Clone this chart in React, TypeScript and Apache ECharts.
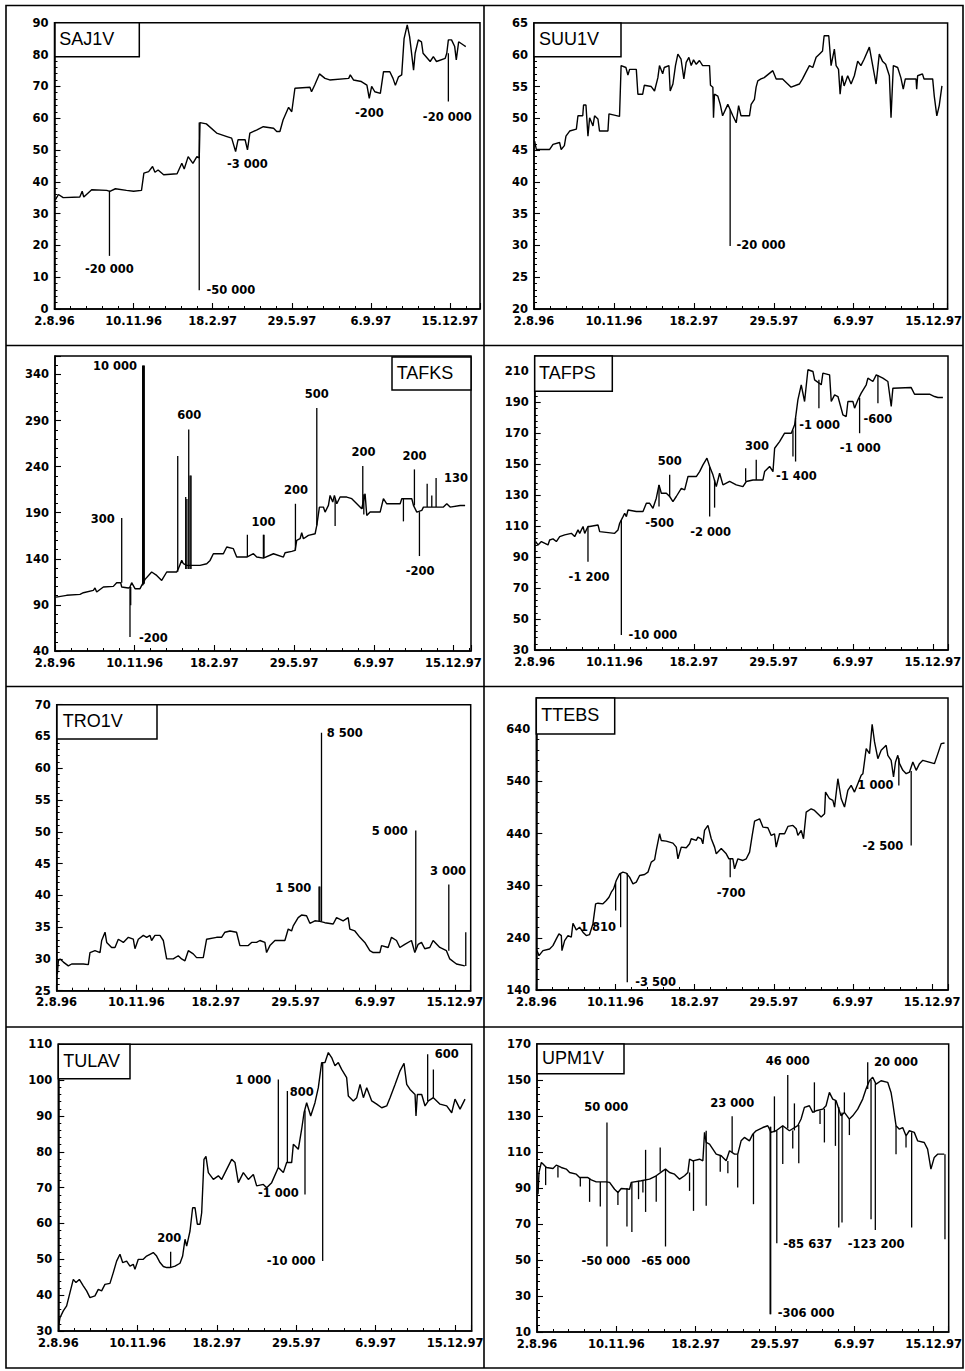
import React, { useEffect, useRef } from "react";
import * as echarts from "echarts";

// x axis: days counted from 2.8.96, one label every 100 days
const xTickLabels = ["2.8.96", "10.11.96", "18.2.97", "29.5.97", "6.9.97", "15.12.97"];

const panelTitles = ["SAJ1V", "SUU1V", "TAFKS", "TAFPS", "TRO1V", "TTEBS", "TULAV", "UPM1V"];

// y axes: [min, max, step]
const sajY = [0, 90, 10];
const suuY = [20, 65, 5];
const tafksY = [40, 360, 50];
const tafpsY = [30, 220, 20];
const troY = [25, 70, 5];
const ttebsY = [140, 700, 100];
const tulavY = [30, 110, 10];
const upmY = [10, 170, 20];

// last day shown on each x axis
const xEnds = [538, 517.5, 522, 519, 520, 520, 521, 519];

// ---------- SAJ1V ----------
const sajPrice = [
  [1, 34.3], [5, 36], [11, 35], [32, 35.2], [35, 37], [37, 35.2], [47, 37.5], [66, 37.3], [70, 37], [77, 37.8],
  [91, 37.3], [100, 37], [110, 37.3], [113, 42.7], [119, 43.2], [124, 44.8], [127, 43], [131, 43.7], [138, 42.2],
  [155, 42.5], [161, 45.8], [164, 44], [169, 47.9], [175, 45.8], [180, 47.9], [183, 47.5], [184, 58.6], [192, 58.2],
  [205, 55.3], [218, 54.2], [224, 53.7], [229, 49.5], [232, 53.2], [241, 53.2], [244, 50], [247, 55.3], [256, 56.3],
  [264, 57.3], [277, 56.8], [281, 55.8], [285, 55.8], [289, 59.4], [296, 63.4], [300, 62], [304, 69.4], [323, 69.7],
  [325, 68.3], [329, 70.4], [335, 73.9], [342, 72.5], [348, 72], [372, 72.5], [374, 73.6], [378, 72], [388, 71.5],
  [395, 70.4], [398, 66.2], [401, 70], [405, 68.3], [412, 67.8], [416, 74.6], [424, 74.6], [428, 72.5], [431, 70.3],
  [435, 73], [439, 73.6], [442, 85], [446, 89.3], [449, 85.6], [454, 75.1], [456, 80.4], [460, 84.6], [464, 84],
  [466, 80.4], [475, 77.8], [479, 79.3], [483, 77.8], [494, 78.8], [496, 80.4], [498, 84.6], [502, 84.6], [506, 82.5],
  [508, 78.3], [511, 84], [517, 83], [520, 82.5],
];
const sajSpikes = [[69.5, 37.2, 16.7], [183, 58.6, 5.9], [498, 80.4, 65.2]];
const sajNotes = [[69.5, 12.6, "-20 000"], [223, 5.9, "-50 000"], [244, 45.6, "-3 000"], [398, 61.5, "-200"], [496.6, 60.5, "-20 000"]];

// ---------- SUU1V ----------
const suuPrice = [
  [0.8, 46.4], [2.9, 45.1], [19.6, 45.1], [23.8, 45.9], [32, 46.2], [34, 45.1], [38, 45.7], [40, 47.2], [44.6, 48],
  [53, 48.3], [55, 50.4], [61, 50.4], [62, 52.1], [65, 52.1], [67.5, 47.2], [69.6, 50.1], [73.8, 48.8], [75.8, 50.4],
  [80, 49.9], [82, 48], [92.5, 48], [93.8, 50.7], [107, 50.3], [109, 58.3], [115, 58], [117.5, 56.8], [119.6, 57.7],
  [128, 57.7], [130, 53.8], [136, 53.8], [138, 55.2], [146.7, 55], [150.8, 54.3], [155, 56.4], [157, 58.3], [161, 57],
  [163, 58], [168.8, 58.3], [170.4, 54.3], [173.8, 55.4], [177, 58.3], [180, 60.1], [184, 59.3], [187.5, 56.2],
  [190.4, 58.8], [193.8, 59.6], [196.7, 58.3], [199.6, 59.2], [203, 58.5], [207, 59.1], [211, 58.3], [219.6, 58.3],
  [220.8, 55.2], [223.8, 54.9], [224.6, 50.1], [225.8, 53.8], [230, 53.5], [233, 52.2], [236, 50.4], [242.5, 52.2],
  [245.4, 51.4], [248.8, 50.4], [253, 49.3], [256, 52], [259, 50.4], [269.6, 50.4], [271.7, 52.2], [275.8, 53],
  [277.9, 54.9], [280, 55.9], [284, 56.2], [288, 56.4], [298.8, 57.5], [303, 56.2], [311, 56.2], [321.7, 54.9],
  [332, 55.4], [336, 56.2], [340, 57.2], [344.6, 58.3], [348.8, 58], [353, 59.6], [357, 60.1], [361, 60.6], [363, 63],
  [368.8, 63], [371.7, 58.3], [375.8, 60.9], [378, 58.3], [381, 57.7], [383, 53.8], [385.4, 56.7], [388, 55.1],
  [392.5, 56.7], [396.7, 55.4], [400.8, 56.7], [405, 59], [409, 58.3], [413, 59.3], [419.6, 61.2], [423.8, 58.3],
  [428, 55.4], [432, 60.1], [436, 59], [440, 58.5], [444.6, 56.7], [446.7, 50.1], [449.6, 58.3], [455, 58],
  [459, 56.4], [462, 54.6], [464.6, 56.2], [478, 56.2], [478.8, 54.6], [480, 56.7], [486, 57], [488, 56.2],
  [498.8, 56.2], [500.8, 53.5], [504, 50.4], [507, 52], [510.4, 55.1],
];
const suuSpikes = [[245.4, 51.4, 29.9]];
const suuNotes = [[284, 30, "-20 000"]];

// ---------- TAFKS ----------
const tafksPrice = [
  [1.3, 98.5], [14.6, 100.4], [31.4, 101.4], [35.6, 103.2], [48.1, 105.8], [50.2, 108.3], [52.3, 104], [60.7, 109.4],
  [73.2, 110.1], [77.4, 114.1], [82.4, 114.1], [83.7, 109.4], [92, 108.3], [94.1, 109.4], [96.2, 114.1], [100.4, 107.6],
  [106.7, 107.6], [108.8, 111.2], [113, 117.7], [121.3, 125.7], [127.6, 122], [133.9, 116.6], [140.2, 125.7],
  [152.7, 125.7], [154.8, 129.3], [159, 138.3], [161.1, 134.7], [165.3, 132.9], [171.5, 132.9], [182, 132.9],
  [190.4, 134.7], [194.6, 138.3], [198.7, 145.5], [211.3, 145.5], [215.5, 152.8], [223.8, 151], [228, 141.9],
  [240.6, 141.9], [249, 145.5], [253.1, 141.9], [261.5, 140.8], [274.1, 145.5], [286.6, 141.9], [288.7, 146.6],
  [297.1, 148.1], [301.3, 149.1], [303.3, 160], [307.5, 161.8], [309.6, 168.3], [311.7, 161.8], [318, 165.4],
  [326.4, 167.2], [328.5, 176.2], [331.8, 196.1], [336.8, 196.1], [338.9, 190.7], [343.1, 197.9], [345.2, 208.8],
  [348.5, 201.5], [350.6, 208.8], [353.6, 199.7], [357.7, 207], [366.1, 207], [372.4, 205.2], [378.7, 199.7],
  [384.9, 194.3], [389.1, 210.6], [391.2, 187.1], [395.4, 190.7], [408, 190.7], [412.1, 205.2], [416.3, 199.7],
  [433.1, 199.7], [435.1, 205.2], [447.7, 205.2], [449.8, 197.9], [454, 190.7], [460.3, 192.5], [462.3, 196.1],
  [487.4, 196.1], [491.6, 199.7], [495.8, 196.1], [508.4, 197.9], [514.6, 197.9],
];
const tafksSpikes = [
  [83.7, 114.1, 184.2], [94.1, 109.4, 55.2], [95, 109.4, 89.5], [110, 111, 349.7], [111, 112, 349.7], [112, 113, 349.7],
  [154, 126, 251.4], [164, 129, 207], [165.5, 129, 205], [167.8, 129, 280.3], [169.5, 129, 230.5], [170.7, 129, 230.5],
  [241.4, 141.9, 166.1], [261.5, 140.8, 166.1], [262.3, 140.8, 166.1], [301.7, 149.1, 199.7], [328.5, 176.2, 303.5],
  [351.5, 205, 175.5], [386.2, 194.3, 240.6], [387.5, 188, 210], [437.2, 205.2, 180.6], [451, 197.9, 237],
  [457.3, 190.7, 143], [467, 196.1, 221.4], [472.8, 196.1, 208.8], [478.2, 196.1, 227.6],
];
const tafksNotes = [
  [75.3, 349, "10 000"], [123.4, 54.1, "-200"], [59.8, 183.5, "300"], [168.6, 295.5, "600"], [261.5, 179.9, "100"],
  [302.5, 214.9, "200"], [328.5, 318.3, "500"], [387, 255.8, "200"], [451, 251.1, "200"], [503.3, 227.6, "130"],
  [458.2, 126.4, "-200"],
];

// ---------- TAFPS ----------
const tafpsPrice = [
  [1.3, 100.1], [4.2, 97.9], [8.4, 100.1], [16.7, 97.9], [18.8, 101.1], [23, 101.8], [27.2, 100.1], [31.4, 103.3],
  [37.7, 104.4], [46, 105.4], [50.2, 103.3], [54.4, 107.6], [56.5, 105.4], [60.7, 109.8], [62.8, 105.4], [66.9, 109.8],
  [69, 109.8], [79.5, 110.8], [81.6, 106.5], [100.4, 105.4], [104.6, 107.6], [106.7, 111.9], [110.9, 116.2],
  [113, 118.4], [115.1, 116.2], [117.2, 120.5], [127.6, 119.5], [136, 119.5], [140.2, 124.8], [144.4, 124.8],
  [148.5, 121.6], [152.7, 128.1], [156.1, 136.7], [159, 131.3], [165.3, 131.3], [169.5, 129.2], [173.6, 125.9],
  [177.8, 129.2], [184.1, 134.5], [188.3, 133.5], [192.5, 142.1], [202.9, 142.1], [207.1, 145.3], [211.3, 149.6],
  [216.3, 154], [219.7, 148.6], [223.8, 143.2], [228, 135.6], [232.2, 144.2], [236.4, 136.7], [244.8, 138.9],
  [253.1, 136.7], [261.5, 135.6], [265.7, 138.9], [274.1, 139.9], [286.6, 139.9], [288.7, 145.3], [295, 148.6],
  [299.2, 145.3], [301.3, 160.4], [307.5, 164.7], [313.8, 170.1], [322.2, 170.1], [326.4, 175.5], [330.5, 191.7],
  [334.7, 201.4], [338.9, 190.6], [343.1, 211.1], [349.4, 210], [351.5, 204.6], [359.8, 201.4], [361.9, 208.9],
  [370.3, 207.8], [372.4, 190.6], [376.6, 194.9], [380.8, 193.8], [387, 182], [391.2, 180.9], [393.3, 190.6],
  [399.6, 190.6], [401.7, 186.3], [405.9, 191.7], [410, 196], [416.3, 201.4], [418.4, 205.7], [424.7, 203.5],
  [428.9, 207.8], [437.2, 205.7], [443.5, 203.5], [447.7, 187.4], [449.8, 199.2], [472.8, 199.6], [477, 195.3],
  [495.8, 195.3], [502.1, 193.8], [506.3, 193.2], [512.6, 193.2],
];
const tafpsSpikes = [
  [66.9, 109.8, 87.1], [108.8, 114, 39.7], [156.1, 136.7, 122.7], [169.5, 129.2, 143.2], [219.7, 148.6, 116.2],
  [225.9, 140, 122], [264.9, 138.9, 147.5], [278.2, 139.9, 152.9], [324.3, 172, 155], [327.6, 180, 151.8],
  [356.9, 204.6, 186.3], [408, 193, 170.1], [431, 207.8, 189.5],
];
const tafpsNotes = [
  [68.2, 77.4, "-1 200"], [148.5, 39.7, "-10 000"], [169.5, 152.2, "500"], [156.9, 112.3, "-500"],
  [220.9, 106.5, "-2 000"], [279.1, 161.9, "300"], [328.5, 142.5, "-1 400"], [357.7, 175.5, "-1 000"],
  [431, 179.4, "-600"], [408.8, 160.4, "-1 000"],
];

// ---------- TRO1V ----------
const troPrice = [
  [0.8, 27.6], [2.1, 29.7], [4.2, 30], [8.4, 29.5], [14.6, 28.9], [18.8, 29.2], [33.5, 29.2], [39.7, 29.1], [41.8, 31],
  [48.1, 31.3], [54.4, 31], [56.5, 32.9], [60.7, 34.2], [62.8, 32.6], [69, 31.8], [73.2, 31.8], [77.4, 33.1],
  [83.7, 32.6], [90, 33.4], [96.2, 33.1], [98.3, 31.6], [102.5, 33.1], [108.8, 33.7], [113, 33.4], [117.2, 33.7],
  [119.2, 32.9], [123.4, 33.7], [129.7, 33.7], [133.9, 32.9], [138.1, 30], [146.4, 30], [152.7, 30.5], [156.9, 30],
  [161.1, 29.7], [165.3, 31.3], [171.5, 30.8], [175.7, 30.2], [184.1, 30.2], [188.3, 33.1], [200.8, 33.4],
  [207.1, 33.4], [211.3, 34.2], [217.6, 34.4], [225.9, 34.2], [230.1, 32.1], [240.6, 32.1], [244.8, 32.6],
  [251, 32.6], [255.2, 32.9], [261.5, 32.6], [263.6, 31], [267.8, 32.1], [274.1, 32.9], [286.6, 32.9], [290.8, 34.7],
  [295, 34.4], [297.1, 35.2], [303.3, 36.5], [307.5, 36.9], [313.8, 36.8], [318, 35.6], [324.3, 36], [330.5, 35.9],
  [336.8, 35.7], [347.3, 35.5], [351.5, 36.5], [359.8, 36], [366.1, 36.5], [368.2, 34.7], [374.5, 34.4],
  [380.8, 33.4], [387, 32.6], [393.3, 31.3], [397.5, 31], [405.9, 31], [408, 32.1], [416.3, 31.8], [420.5, 33.4],
  [426.8, 32.9], [431, 31.8], [437.2, 32.3], [445.6, 32.9], [449.8, 31], [454, 32.3], [458.2, 32.6], [462.3, 31.6],
  [468.6, 31.8], [472.8, 32.9], [481.2, 31.8], [489.5, 31.3], [493.7, 30], [502.1, 29.2], [512.6, 28.9],
];
const troSpikes = [
  [329.5, 35.9, 41.4], [330.5, 35.9, 41.4], [332.6, 35.9, 65.6], [451, 31.5, 50.2], [492.5, 31.3, 41.7],
  [513.8, 28.9, 34.2],
];
const troNotes = [[361.9, 65.5, "8 500"], [297.1, 41.2, "1 500"], [418.4, 50.1, "5 000"], [491.6, 43.9, "3 000"]];

// ---------- TTEBS ----------
const ttebsPrice = [
  [0.8, 215.5], [3.4, 205.9], [8.4, 215.5], [16.8, 218.7], [21, 225.1], [25.3, 238], [28.6, 247.6], [31.6, 244.4],
  [32.4, 215.5], [35.8, 234.8], [40, 244.4], [44.2, 241.2], [46.3, 268], [50.5, 255.2], [54.7, 260.4], [58.9, 250.8],
  [63.1, 244.4], [67.3, 246.3], [71.5, 266.8], [74.9, 305.2], [77.9, 306.5], [84.2, 305.2], [88.4, 311.6],
  [91.8, 318], [94.7, 327.6], [97.6, 334], [101, 350], [105.2, 362.8], [109.4, 366], [113.6, 364.1], [117.8, 356.4],
  [122.1, 343.6], [126.3, 346.8], [130.5, 359.6], [136.8, 361.5], [141, 366], [145.2, 385.2], [149.4, 389.7],
  [151.5, 407.6], [155.7, 439.6], [157.8, 426.8], [164.1, 425.5], [172.6, 421.7], [176.8, 414], [178.9, 391.6],
  [183.1, 414], [189.4, 412.7], [193.6, 420.4], [195.7, 430], [202, 426.8], [204.1, 433.2], [208.3, 430],
  [210.4, 420.4], [212.5, 446], [216.8, 455.6], [221, 430], [225.2, 414], [227.3, 401.2], [233.6, 411.5],
  [239.9, 401.2], [243.3, 391.6], [248.3, 391.6], [250.4, 372.4], [254.6, 391.6], [260.9, 388.4], [265.2, 391.6],
  [269.4, 404.4], [272.7, 436.4], [275.7, 464], [282, 468.4], [286.2, 452.4], [292.5, 451.1], [296.7, 436.4],
  [300.9, 439.6], [303, 414], [307.2, 439.6], [313.6, 439.6], [317.8, 453.7], [324.1, 455.6], [328.3, 449.2],
  [330.4, 436.4], [334.6, 446], [337.5, 430], [340.9, 481.2], [347.2, 487.6], [351.4, 484.4], [355.6, 478],
  [359.8, 471.6], [364.1, 478], [365.3, 519.6], [370.4, 506.8], [374.6, 503.6], [376.7, 490.8], [380.9, 545.2],
  [385.1, 506.8], [389.3, 490.8], [393.5, 522.8], [397.7, 532.4], [401.9, 519.6], [406.1, 535.6], [410.4, 551.7],
  [412.5, 554.8], [416.7, 602.9], [420.9, 593.3], [424.2, 649.6], [427.2, 615.7], [431.4, 583.7], [435.6, 599.7],
  [441.9, 609.3], [444, 590.1], [448.2, 580.5], [451.2, 548.5], [453.7, 577.3], [456.6, 590.1], [458.8, 574.1],
  [463, 561.3], [467.2, 554.8], [471.4, 558], [475.6, 577.3], [479.8, 561.3], [484, 574.1], [488.2, 580.5],
  [502.9, 574.1], [507.2, 593.3], [511.4, 612.5], [515.6, 613.8],
];
const ttebsSpikes = [
  [100.2, 345, 292.4], [106.5, 364, 260.4], [114.9, 364, 154.7], [244.9, 391.6, 356.4], [457.9, 585, 532.4],
  [473.5, 560, 417.2],
];
const ttebsNotes = [
  [77.9, 260.4, "1 810"], [150.7, 154.7, "-3 500"], [246.2, 326.3, "-700"], [428.5, 532.4, "1 000"],
  [437.7, 415.3, "-2 500"],
];

// ---------- TULAV ----------
const tulavPrice = [
  [0.8, 31.9], [2.1, 33.7], [6.3, 35.6], [10.5, 37], [14.7, 40.7], [18.9, 44.4], [22.3, 43.5], [26.5, 44.4],
  [31.5, 42.6], [35.7, 41.2], [39.9, 39.3], [46.2, 39.8], [50.4, 41.6], [54.6, 41.2], [58.8, 43], [65.1, 43.3],
  [69.3, 46.3], [73.5, 49.5], [77.7, 51.4], [81.1, 49.1], [86.1, 49.5], [90.3, 48.1], [94.5, 48.6], [96.6, 47.2],
  [100.8, 50], [107.1, 50], [111.3, 50.9], [119.7, 51.9], [123.9, 50.9], [128.2, 49.1], [132.4, 48], [136.6, 47.7],
  [140.8, 47.7], [147.1, 48.1], [153.4, 48.9], [156.7, 50.9], [159.7, 55.6], [161.8, 53.7], [166, 57.9],
  [169.3, 64.4], [172.3, 64.4], [175.2, 59.8], [178.6, 59.8], [180.7, 63], [183.6, 77.9], [186.1, 78.7],
  [189.1, 74.2], [195.4, 72.3], [201.7, 73.3], [205.9, 72.3], [212.2, 75.1], [218.5, 77.9], [222.7, 77],
  [226.9, 71.4], [233.2, 74.2], [239.5, 72.3], [245.8, 73.7], [250, 70.5], [258.4, 70.9], [262.6, 70],
  [268.9, 71.4], [277.3, 75.6], [283.6, 74.2], [287.8, 77], [294.1, 77], [296.2, 82.1], [302.5, 80.7],
  [306.7, 86.3], [309.7, 90.9], [313, 93.7], [318.1, 90], [323.5, 93.7], [327.7, 97.9], [331.9, 104.9],
  [336.1, 104.9], [340.3, 107.7], [344.5, 106.3], [348.7, 104], [352.9, 104.9], [357.1, 103], [363.4, 100.7],
  [365.5, 95.6], [371.8, 94.2], [376.1, 95.1], [380.3, 98.8], [384.5, 95.1], [388.7, 97.9], [395, 94.2],
  [401.3, 93.3], [407.6, 92.3], [413.9, 92.8], [418.1, 95.1], [424.4, 98.8], [430.7, 102.6], [435.7, 104.7],
  [439.1, 98.8], [443.3, 97.4], [449.6, 96], [450.8, 90], [452.5, 96], [458, 96], [462.2, 92.8], [466.4, 94.2],
  [472.7, 95.1], [481.1, 93.3], [489.5, 92.8], [495.8, 90.9], [500, 94.7], [506.3, 91.9], [512.6, 94.7],
];
const tulavSpikes = [
  [141.6, 47.7, 52.1], [277.3, 75.6, 100.2], [288.7, 77, 97], [310.9, 91.5, 68.1], [333.2, 104.9, 49.5],
  [465.5, 94.2, 107.2], [472.7, 95.1, 103],
];
const tulavNotes = [
  [245.8, 100, "1 000"], [306.7, 96.8, "800"], [277.3, 68.4, "-1 000"], [293.3, 49.5, "-10 000"],
  [139.9, 55.9, "200"], [489.5, 107.2, "600"],
];

// ---------- UPM1V ----------
const upmPrice = [
  [1.3, 86.6], [2.5, 98.6], [5.5, 104.2], [7.6, 103.3], [11.8, 101.4], [20.2, 100.8], [24.3, 102.7], [30.6, 101.4],
  [36.9, 100.5], [41.1, 98.6], [49.5, 97.7], [53.7, 95.8], [64.2, 95.8], [68.4, 94.5], [74.7, 93.4], [87.3, 93.4],
  [91.5, 93.1], [97.8, 89.3], [102, 87.5], [106.2, 89.7], [116.7, 89.3], [118.8, 93.1], [131.4, 94], [141.9, 94.9],
  [150.3, 96.8], [158.7, 99.5], [162, 100.5], [167.1, 98.6], [173.4, 97.7], [179.7, 94.9], [186, 96.8],
  [190.2, 98.6], [192.3, 106], [196.5, 105.1], [204.9, 106], [209.1, 105.1], [211.2, 120.9], [213.3, 115.3],
  [217.5, 114.4], [221.7, 111.6], [225.9, 108.8], [232.2, 107.9], [238.5, 105.1], [242.7, 110.7], [249, 108.8],
  [253.1, 108.8], [257.3, 116.2], [261.5, 118.1], [267.8, 116.2], [272, 119.9], [276.2, 121.8], [284.6, 123.6],
  [290.9, 124.6], [295.1, 120.9], [301.4, 121.8], [309.8, 124.6], [318.2, 121.8], [328.7, 124.6], [332.9, 128.3],
  [337.1, 134.8], [343.4, 135.7], [347.6, 132], [351.8, 132.9], [360.2, 133.8], [364.4, 135.7], [368.6, 143.1],
  [372.8, 139.4], [377, 138.5], [383.3, 130.1], [387.5, 132], [393.8, 128.3], [398, 130.1], [404.3, 133.8],
  [410.6, 139.4], [414.8, 145], [419, 149.6], [423.2, 151.5], [427.4, 147.7], [433.7, 149.6], [442.1, 148.7],
  [446.3, 143.1], [448.4, 137.5], [452.6, 124.6], [456.8, 122.7], [461, 123.6], [465.2, 119], [469.4, 121.8],
  [475.6, 120.9], [479.8, 116.2], [488.2, 115.3], [492.4, 111.6], [496.6, 100.5], [500.8, 107], [505, 108.8],
  [513.4, 108.8],
];
const upmSpikes = [
  [10.9, 102, 91.6], [26.4, 102, 95.8], [54.6, 96, 90.8], [66.3, 95, 82.3], [79.8, 93.4, 79.7], [88.2, 126.4, 57.5],
  [102, 88, 80.6], [113.4, 90, 68.6], [119.6, 93, 65.6], [128, 94, 83.8], [133.5, 94, 87.5], [136.9, 111.2, 76.7],
  [150.3, 97, 82.3], [155.3, 99, 112.5], [162, 100.5, 57.5], [192.3, 98.6, 88.4], [197.3, 105, 77.3],
  [213.3, 121.8, 80.1], [231, 108, 99], [240.6, 105, 98.2], [246, 110, 129.8], [253, 108.8, 90.3], [272.9, 120, 81],
  [293.9, 124, 19.8], [294.6, 124, 19.8], [299.3, 121, 140.9], [302.3, 121.8, 59.3], [309.8, 124.6, 103.3],
  [316.1, 123, 152.8], [322.4, 122, 112], [324.5, 122, 137], [330, 125, 103.8], [349.7, 132, 148.7],
  [356.8, 133, 125.5], [362.3, 134, 115.3], [376.2, 138.5, 113.4], [380.4, 135, 68], [384.5, 132, 70.8],
  [387.5, 132, 143.1], [393.8, 128.3, 119.4], [416.9, 145, 159.8], [421.1, 150, 72.7], [426.5, 148, 66.7],
  [452.6, 124.6, 108.8], [465.2, 119, 112.5], [472.3, 121, 68], [514.3, 108.8, 61.5],
];
const upmNotes = [
  [87.3, 134.8, "50 000"], [86.9, 49.5, "-50 000"], [162.5, 49.5, "-65 000"], [246, 137.2, "23 000"],
  [316.1, 160.7, "46 000"], [452.6, 159.8, "20 000"], [341.3, 58.8, "-85 637"], [427.4, 58.8, "-123 200"],
  [339.2, 20.4, "-306 000"],
];

const prices = [sajPrice, suuPrice, tafksPrice, tafpsPrice, troPrice, ttebsPrice, tulavPrice, upmPrice];
const spikes = [sajSpikes, suuSpikes, tafksSpikes, tafpsSpikes, troSpikes, ttebsSpikes, tulavSpikes, upmSpikes];
const notes = [sajNotes, suuNotes, tafksNotes, tafpsNotes, troNotes, ttebsNotes, tulavNotes, upmNotes];
const yAxes = [sajY, suuY, tafksY, tafpsY, troY, ttebsY, tulavY, upmY];

// layout (pixels)
const grids = [
  { left: 54.5, top: 22.7, width: 425.5, height: 286.3 },
  { left: 534, top: 23, width: 414, height: 286 },
  { left: 55, top: 356, width: 416, height: 295 },
  { left: 534.7, top: 356, width: 413.3, height: 294 },
  { left: 56.7, top: 704.7, width: 414, height: 286 },
  { left: 536.3, top: 698, width: 411.7, height: 292 },
  { left: 58.3, top: 1044.3, width: 413.4, height: 286.7 },
  { left: 537, top: 1044, width: 412, height: 288 },
];
const boxes = [
  { x: 55, y: 22.7, w: 84.3, h: 34, tx: 59.3 },
  { x: 534, y: 23, w: 87, h: 33.7, tx: 539 },
  { x: 392, y: 357, w: 79, h: 33, tx: 396.7 },
  { x: 534.7, y: 356, w: 77.6, h: 35.3, tx: 539 },
  { x: 57, y: 704.7, w: 100, h: 34.3, tx: 62.7 },
  { x: 536.3, y: 698, w: 78.4, h: 36, tx: 541.3 },
  { x: 58.3, y: 1044.3, w: 71.7, h: 34.4, tx: 63.3 },
  { x: 537, y: 1044, w: 87, h: 29.7, tx: 542 },
];

const LABEL_FONT = '"DejaVu Sans", "Liberation Sans", sans-serif';
const TITLE_FONT = '"Liberation Sans", Arial, sans-serif';

function buildOption() {
  const grid: any[] = [];
  const xAxis: any[] = [];
  const yAxis: any[] = [];
  const series: any[] = [];
  const graphic: any[] = [];

  for (let i = 0; i < 8; i++) {
    const g = grids[i];
    grid.push({ ...g, show: true, borderColor: "#000", borderWidth: 1.5, backgroundColor: "transparent" });
    xAxis.push({
      type: "value",
      gridIndex: i,
      min: 0,
      max: xEnds[i],
      interval: 100,
      splitLine: { show: false },
      axisLine: { show: true, lineStyle: { color: "#000", width: 1.5 } },
      axisTick: { show: true, inside: true, length: 6, lineStyle: { color: "#000", width: 1.1 } },
      minorTick: { show: true, splitNumber: 5, length: 3, lineStyle: { color: "#000", width: 1 } },
      axisLabel: {
        color: "#000",
        fontFamily: LABEL_FONT,
        fontWeight: "bold",
        fontSize: 11.5,
        lineHeight: 11,
        margin: 6,
        formatter: (v: number) => {
          const k = Math.round(v / 100);
          return Math.abs(v - k * 100) < 1e-6 && xTickLabels[k] ? xTickLabels[k] : "";
        },
      },
    });
    const [ymin, ymax, ystep] = yAxes[i];
    yAxis.push({
      type: "value",
      gridIndex: i,
      min: ymin,
      max: ymax,
      interval: ystep,
      splitLine: { show: false },
      axisLine: { show: true, lineStyle: { color: "#000", width: 1.5 } },
      axisTick: { show: true, inside: true, length: 6, lineStyle: { color: "#000", width: 1.1 } },
      minorTick: { show: true, splitNumber: 5, length: 3, lineStyle: { color: "#000", width: 1 } },
      axisLabel: {
        color: "#000",
        fontFamily: LABEL_FONT,
        fontWeight: "bold",
        fontSize: 11.5,
        lineHeight: 10,
        margin: 6,
        formatter: (v: number) => {
          const r = (v - ymin) / ystep;
          return Math.abs(r - Math.round(r)) < 1e-6 ? String(v) : "";
        },
      },
    });

    series.push({
      type: "line",
      xAxisIndex: i,
      yAxisIndex: i,
      data: prices[i],
      showSymbol: false,
      symbol: "none",
      lineStyle: { color: "#000", width: 1.4 },
      clip: true,
      z: 3,
    });

    series.push({
      type: "custom",
      xAxisIndex: i,
      yAxisIndex: i,
      data: spikes[i],
      encode: { x: 0, y: [1, 2] },
      clip: true,
      z: 3,
      renderItem: (_p: any, api: any) => {
        const a = api.coord([api.value(0), api.value(1)]);
        const b = api.coord([api.value(0), api.value(2)]);
        return {
          type: "line",
          shape: { x1: a[0], y1: a[1], x2: b[0], y2: b[1] },
          style: { stroke: "#000", lineWidth: 1.3 },
        };
      },
    });

    const nt = notes[i];
    series.push({
      type: "custom",
      xAxisIndex: i,
      yAxisIndex: i,
      data: nt.map((n) => [n[0], n[1]]),
      encode: { x: 0, y: 1 },
      clip: false,
      z: 5,
      renderItem: (p: any, api: any) => {
        const c = api.coord([api.value(0), api.value(1)]);
        return {
          type: "text",
          x: c[0],
          y: c[1],
          style: {
            text: String(nt[p.dataIndex][2]),
            fill: "#000",
            fontFamily: LABEL_FONT,
            fontWeight: "bold",
            fontSize: 11.5,
            align: "center",
            verticalAlign: "middle",
          },
        };
      },
    });

    const bx = boxes[i];
    graphic.push({
      type: "rect",
      shape: { x: bx.x, y: bx.y, width: bx.w, height: bx.h },
      style: { fill: "#fff", stroke: "#000", lineWidth: 1.5 },
      z: 100,
    });
    graphic.push({
      type: "text",
      x: bx.tx,
      y: bx.y + bx.h / 2 - 1,
      style: {
        text: panelTitles[i],
        fill: "#000",
        fontFamily: TITLE_FONT,
        fontSize: 18,
        align: "left",
        verticalAlign: "middle",
      },
      z: 101,
    });
  }

  // outer frame and panel dividers
  graphic.push({
    type: "rect",
    shape: { x: 6, y: 5.5, width: 957, height: 1362.5 },
    style: { fill: "none", stroke: "#000", lineWidth: 1.6 },
    z: 90,
  });
  graphic.push({ type: "line", shape: { x1: 484, y1: 5.5, x2: 484, y2: 1368 }, style: { stroke: "#000", lineWidth: 1.6 }, z: 90 });
  [345.5, 686.5, 1027].forEach((y) =>
    graphic.push({ type: "line", shape: { x1: 6, y1: y, x2: 963, y2: y }, style: { stroke: "#000", lineWidth: 1.6 }, z: 90 })
  );

  return {
    animation: false,
    backgroundColor: "#fff",
    grid,
    xAxis,
    yAxis,
    series,
    graphic,
  };
}

export default function App() {
  const ref = useRef<HTMLDivElement>(null);
  useEffect(() => {
    if (!ref.current) return;
    const chart = echarts.init(ref.current, null, { renderer: "svg" });
    chart.setOption(buildOption() as any);
    return () => chart.dispose();
  }, []);
  return (
    <div
      ref={ref}
      style={{ position: "absolute", left: 0, top: 0, width: 965, height: 1371, background: "#fff" }}
    />
  );
}
